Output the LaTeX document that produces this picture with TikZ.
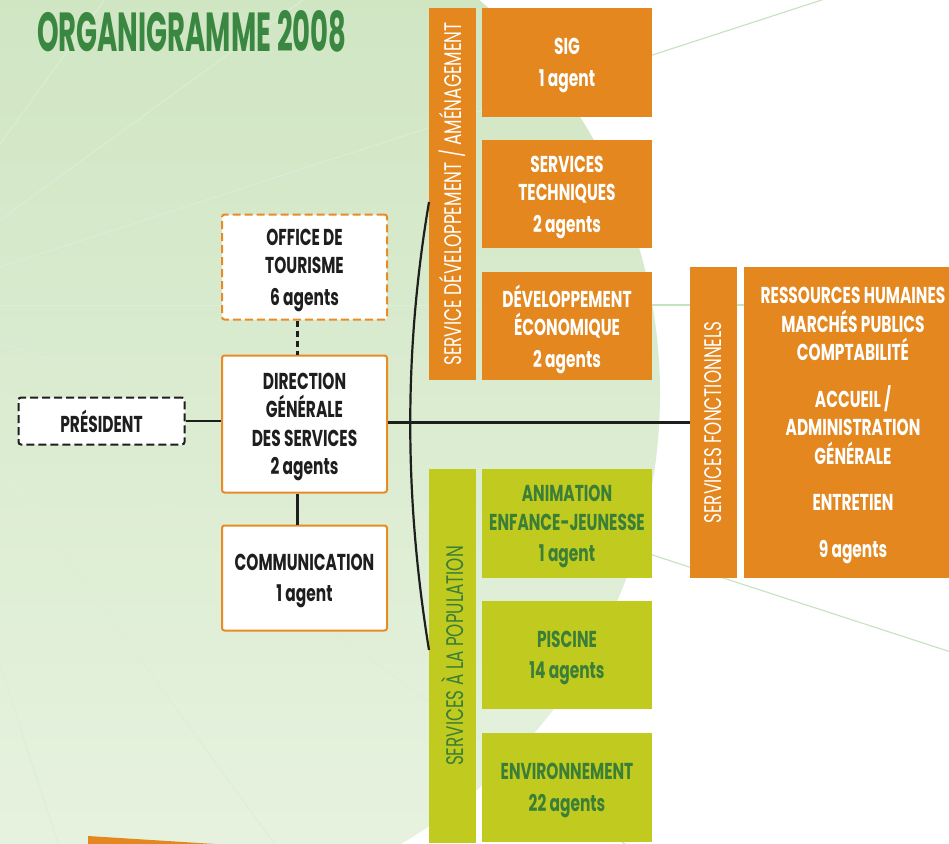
\documentclass[tikz,border=0pt]{standalone}
\usepackage{fontspec}
\usepackage{graphicx}
\setmainfont{Poppins}
\newfontfamily\boxfont{Poppins}[FakeStretch=0.67]
\newfontfamily\barfont{Poppins}[FakeStretch=0.70]
\newfontfamily\titlefont{Poppins}[FakeStretch=0.5]
\definecolor{orng}{HTML}{E3871E}
\definecolor{orngb}{HTML}{E98B25}
\definecolor{lime}{HTML}{C1CA1F}
\definecolor{dkgreen}{HTML}{3A7E38}
\definecolor{titlegreen}{HTML}{3A8742}
\definecolor{bgtop}{HTML}{CDE4BF}
\definecolor{bgbot}{HTML}{E8F3E1}
\definecolor{raygreen}{HTML}{C5E3BD}
\definecolor{rayin}{HTML}{DDEED7}
\definecolor{linec}{HTML}{1E1E1E}
\newcommand\boxtext{\boxfont\bfseries\fontsize{23}{28.5}\selectfont}
\newcommand\bartext{\barfont\fontsize{24}{26}\selectfont}
\tikzset{
  conn/.style={line width=2.2pt, draw=linec},
  topstrut/.style={text depth=-8pt},
  wbox/.style={draw=orngb, line width=2pt, fill=white, rounded corners=2.5pt,
    minimum width=165pt, inner sep=0pt, align=center, font=\boxtext, text=linec, topstrut},
  dashbox/.style={wbox, dash pattern=on 8pt off 4pt},
  obox/.style={fill=orng, minimum width=170pt, inner sep=0pt, align=center,
    font=\boxtext, text=white, topstrut},
  gbox/.style={fill=lime, minimum width=170pt, inner sep=0pt, align=center,
    font=\boxtext, text=dkgreen, topstrut},
  obar/.style={fill=orng, rotate=90, minimum height=47pt, inner sep=0pt,
    font=\bartext, text=white},
  gbar/.style={fill=lime, rotate=90, minimum height=47pt, inner sep=0pt,
    font=\bartext, text=dkgreen},
  raystyle/.style={draw=raygreen, line width=1.1pt},
  rayinner/.style={draw=rayin, line width=0.8pt},
}
\begin{document}
\begin{tikzpicture}[x=1pt, y=-1pt]
\useasboundingbox (0,0) rectangle (949,843);
\clip (0,0) rectangle (949,843);
\fill[white] (0,0) rectangle (949,843);
% rays
\coordinate (rc) at (-117,305);
\foreach \a in {-54,-36,-18,0,18,36,54,72}
  \draw[raystyle] (rc) -- ++({1500*cos(\a)},{1500*sin(\a)});
% green background disc
\shade[top color=bgtop, bottom color=bgbot] (140,394) circle (520);
\begin{scope}
  \clip (140,394) circle (520);
  \foreach \a in {-54,-36,-18,0,18,36,54,72}
    \draw[rayinner] (rc) -- ++({1500*cos(\a)},{1500*sin(\a)});
\end{scope}
% orange wedge bottom left
\fill[orng] (88,836) -- (215,844) -- (215,850) -- (88,850) -- cycle;
% title
\node[anchor=base west, inner sep=0pt, text=titlegreen,
  font=\titlefont\bfseries\fontsize{55}{55}\selectfont] (title) at (37,52) {ORGANIGRAMME 2008};
% left column
\node[dashbox, draw=linec, minimum width=166pt, minimum height=47pt,
  text depth={}] (pres) at (101.5,421) {PRÉSIDENT};
\node[dashbox, minimum height=105pt] (office) at (304.5,267) {OFFICE DE\\TOURISME\\[3pt]6 agents};
\node[wbox, minimum height=137pt] (dir) at (304.5,424) {DIRECTION\\GÉNÉRALE\\DES SERVICES\\2 agents};
\node[wbox, minimum height=105pt] (comm) at (304.5,578) {COMMUNICATION\\[3pt]1 agent};
% bars
\node[obar, minimum width=372pt] (devbar) at (452.5,194) {SERVICE DÉVELOPPEMENT / AMÉNAGEMENT};
\node[gbar, minimum width=374pt] (popbar) at (452.5,656) {SERVICES À LA POPULATION};
\node[obar, minimum width=311pt] (sfbar) at (713.5,422.5) {SERVICES FONCTIONNELS};
% orange boxes
\node[obox, minimum height=109pt] (sig) at (567,62.5) {SIG\\[3pt]1 agent};
\node[obox, minimum height=108pt] (tech) at (567,194) {SERVICES\\TECHNIQUES\\[3pt]2 agents};
\node[obox, minimum height=108pt] (eco) at (567,326) {DÉVELOPPEMENT\\ÉCONOMIQUE\\[3pt]2 agents};
\node[obox, minimum width=218pt, minimum height=311pt] (sfbox) at (853,422.5)
  {RESSOURCES HUMAINES\\MARCHÉS PUBLICS\\COMPTABILITÉ\\[18pt]ACCUEIL /\\ADMINISTRATION\\GÉNÉRALE\\[18pt]ENTRETIEN\\[18pt]9 agents};
% green boxes
\node[gbox, minimum height=109pt] (anim) at (567,523.5) {ANIMATION\\ENFANCE-JEUNESSE\\[3pt]1 agent};
\node[gbox, minimum height=108pt] (pisc) at (567,655) {PISCINE\\[3pt]14 agents};
\node[gbox, minimum height=109pt] (env) at (567,787.5) {ENVIRONNEMENT\\[3pt]22 agents};
% connectors
\draw[conn] (pres.east) -- (pres.east -| dir.west);
\draw[conn, dash pattern=on 6pt off 4pt] ([xshift=-7pt]office.south) -- ([xshift=-7pt]dir.north);
\draw[conn] ([xshift=-7pt]dir.south) -- ([xshift=-7pt]comm.north);
\draw[conn] (sfbar.north -| dir.east) -- (sfbar.north);
\coordinate (arctop) at (429,202);
\coordinate (arcbot) at (429,650);
\draw[conn] (arctop) .. controls (404,350) and (404,496) .. (arcbot);
\end{tikzpicture}
\end{document}
